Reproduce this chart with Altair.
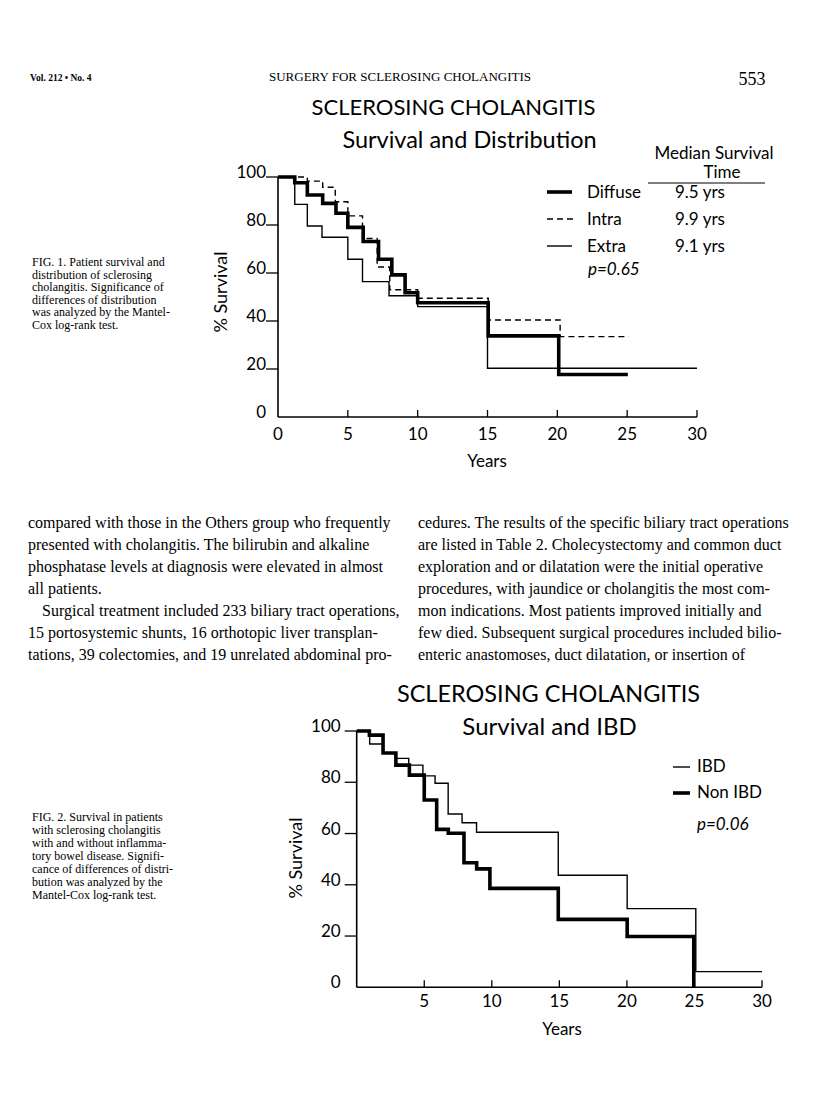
import altair as alt
import pandas as pd

# ---------------- data ----------------
# Fig. 1  (survival and distribution)
diffuse_years = [0, 1.2, 2.1, 3.2, 4.15, 5.0, 6.1, 7.2, 8.15, 9.1, 10.0, 15.05, 20.1, 25.05]
diffuse_surv = [100, 97.6, 92.5, 89.0, 84.9, 79.0, 73.1, 65.7, 59.2, 51.8, 47.6, 33.8, 17.7, 17.7]
intra_years = [0, 2.1, 3.2, 4.1, 5.0, 6.05, 7.1, 8.0, 10.0, 15.05, 20.2, 25.1]
intra_surv = [100, 98.3, 95.7, 89.7, 83.8, 74.4, 62.5, 53.0, 49.5, 40.4, 33.5, 33.5]
extra_years = [0, 1.2, 2.1, 3.15, 5.0, 6.05, 7.95, 10.0, 15.0, 30.0]
extra_surv = [100, 88.6, 79.6, 74.9, 65.7, 56.4, 50.5, 46.0, 20.3, 20.3]

# Fig. 2  (survival and IBD)
ibd_years = [0, 0.96, 1.95, 2.85, 3.85, 4.9, 5.8, 6.77, 7.8, 8.87, 14.92, 20.02, 25.1, 30]
ibd_surv = [100, 94.9, 91.4, 89.3, 86.7, 82.5, 79.6, 67.6, 64.2, 60.5, 43.7, 30.7, 6.1, 6.1]
nonibd_years = [0, 0.94, 1.95, 2.9, 3.9, 5.0, 5.92, 6.78, 7.94, 8.88, 9.86, 14.92, 20.02, 24.95]
nonibd_surv = [100, 98.4, 91.4, 86.7, 82.8, 73.1, 61.6, 60.1, 48.6, 46.2, 38.6, 26.5, 19.8, 0]

fig1_groups = ["Diffuse", "Intra", "Extra"]
fig1_medians = ["9.5  yrs", "9.9  yrs", "9.1  yrs"]
fig2_groups = ["IBD", "Non  IBD"]

fig1_x_ticks = [0, 5, 10, 15, 20, 25, 30]
fig1_y_ticks = [0, 20, 40, 60, 80, 100]
fig2_x_ticks = [5, 10, 15, 20, 25, 30]
fig2_y_ticks = [0, 20, 40, 60, 80, 100]

caption1 = ["FIG. 1. Patient survival and", "distribution of sclerosing",
            "cholangitis. Significance of", "differences of distribution",
            "was analyzed by the Mantel-", "Cox log-rank test."]
caption2 = ["FIG. 2. Survival in patients", "with sclerosing cholangitis",
            "with and without inflamma-", "tory bowel disease. Signifi-",
            "cance of differences of distri-", "bution was analyzed by the",
            "Mantel-Cox log-rank test."]
left_par_a = ["compared with those in the Others group who frequently",
              "presented with cholangitis. The bilirubin and alkaline",
              "phosphatase levels at diagnosis were elevated in almost",
              "all patients."]
left_par_b = ["Surgical treatment included 233 biliary tract operations,"]
left_par_c = ["15 portosystemic shunts, 16 orthotopic liver transplan-",
              "tations, 39 colectomies, and 19 unrelated abdominal pro-"]
right_par = ["cedures. The results of the specific biliary tract operations",
             "are listed in Table 2. Cholecystectomy and common duct",
             "exploration and or dilatation were the initial operative",
             "procedures, with jaundice or cholangitis the most com-",
             "mon indications. Most patients improved initially and",
             "few died. Subsequent surgical procedures included bilio-",
             "enteric anastomoses, duct dilatation, or insertion of"]

SANS = "Lato"
SERIF = "Liberation Serif"
ONE = alt.Data(values=[{}])


def txt(lines, x, y, size, font=SANS, align="left", baseline="middle",
        line_height=None, **kw):
    props = dict(text=lines, font=font, fontSize=size, align=align,
                 baseline=baseline, color="black")
    if line_height is not None:
        props["lineHeight"] = line_height
    props.update(kw)
    return alt.Chart(ONE).mark_text(**props).encode(x=alt.value(x), y=alt.value(y))


def rule(x1, x2, y, width):
    return alt.Chart(ONE).mark_rule(color="black", strokeWidth=width).encode(
        x=alt.value(x1), x2=alt.value(x2), y=alt.value(y))


def km_panel(series, xrange, yrange, xticks, yticks, x_label_dy, y_label_dx, y_tick_len):
    xs = alt.Scale(domain=[0, 30], range=xrange, nice=False, zero=False)
    ys = alt.Scale(domain=[0, 100], range=yrange, nice=False, zero=False)
    layers = []
    for years, surv, width, dash in series:
        df = pd.DataFrame({"year": years, "surv": surv})
        mk = dict(interpolate="step-after", color="black", strokeWidth=width)
        if dash:
            mk["strokeDash"] = dash
        layers.append(alt.Chart(df).mark_line(**mk).encode(
            x=alt.X("year:Q", scale=xs, axis=None),
            y=alt.Y("surv:Q", scale=ys, axis=None)))
    ext = pd.DataFrame({"x0": [0], "x1": [30], "y0": [0], "y1": [100]})
    layers.append(alt.Chart(ext).mark_rule(color="black", strokeWidth=1.6).encode(
        x=alt.X("x0:Q", scale=xs, axis=None), x2="x1:Q",
        y=alt.Y("y0:Q", scale=ys, axis=None)))
    layers.append(alt.Chart(ext).mark_rule(color="black", strokeWidth=1.6).encode(
        x=alt.X("x0:Q", scale=xs, axis=None),
        y=alt.Y("y0:Q", scale=ys, axis=None), y2="y1:Q"))
    xt = pd.DataFrame({"v": [v for v in xticks if v > 0], "z": 0})
    layers.append(alt.Chart(xt).mark_rule(color="black", strokeWidth=1.3, y2Offset=-7).encode(
        x=alt.X("v:Q", scale=xs, axis=None),
        y=alt.Y("z:Q", scale=ys, axis=None), y2="z:Q"))
    yt = pd.DataFrame({"v": [v for v in yticks if v > 0], "z": 0})
    layers.append(alt.Chart(yt).mark_rule(color="black", strokeWidth=1.3, x2Offset=-y_tick_len).encode(
        y=alt.Y("v:Q", scale=ys, axis=None),
        x=alt.X("z:Q", scale=xs, axis=None), x2="z:Q"))
    xl = pd.DataFrame({"v": xticks, "z": 0})
    layers.append(alt.Chart(xl).mark_text(font=SANS, fontSize=17, baseline="middle",
                                          align="center", dy=x_label_dy, color="black").encode(
        x=alt.X("v:Q", scale=xs, axis=None),
        y=alt.Y("z:Q", scale=ys, axis=None), text="v:N"))
    yl = pd.DataFrame({"v": yticks, "z": 0})
    layers.append(alt.Chart(yl).mark_text(font=SANS, fontSize=17, baseline="alphabetic",
                                          align="right", dx=y_label_dx, dy=1, color="black").encode(
        y=alt.Y("v:Q", scale=ys, axis=None),
        x=alt.X("z:Q", scale=xs, axis=None), text="v:N"))
    return alt.layer(*layers)


fig1 = km_panel(
    [(extra_years, extra_surv, 1.4, None),
     (intra_years, intra_surv, 1.4, [6, 4]),
     (diffuse_years, diffuse_surv, 3.6, None)],
    xrange=[270, 689], yrange=[409, 169],
    xticks=fig1_x_ticks, yticks=fig1_y_ticks,
    x_label_dy=18, y_label_dx=-12, y_tick_len=12)

fig2 = km_panel(
    [(ibd_years, ibd_surv, 1.4, None),
     (nonibd_years, nonibd_surv, 3.6, None)],
    xrange=[348.7, 754], yrange=[979.3, 723],
    xticks=fig2_x_ticks, yticks=fig2_y_ticks,
    x_label_dy=15, y_label_dx=-16, y_tick_len=12)

texts = [
    # running head
    txt("Vol. 212 • No. 4", 22, 70, 9.5, font=SERIF, fontWeight="bold"),
    txt("SURGERY FOR SCLEROSING CHOLANGITIS", 392, 69, 13, font=SERIF, align="center"),
    txt("553", 744, 72, 18, font=SERIF, align="center"),
    # figure 1 titles & legend
    txt("SCLEROSING CHOLANGITIS", 445.5, 100, 22, align="center"),
    txt("Survival and Distribution", 461.5, 133, 23.5, align="center"),
    txt("Median Survival", 706, 146, 17, align="center"),
    txt("Time", 714, 165, 17, align="center"),
    rule(640, 757, 175, 1.2),
    rule(539, 564, 184, 3.6),
    alt.Chart(ONE).mark_rule(color="black", strokeWidth=1.4, strokeDash=[6, 4]).encode(
        x=alt.value(539), x2=alt.value(566), y=alt.value(211)),
    rule(539, 564, 238, 1.4),
    txt(fig1_groups, 579, 185, 17, line_height=27),
    txt(fig1_medians, 667, 185, 17, line_height=27),
    txt("p=0.65", 580, 262, 17, fontStyle="italic"),
    txt("% Survival", 214, 284, 18, align="center", angle=270),
    txt("Years", 479, 454, 17, align="center"),
    # captions
    txt(caption1, 24, 254, 12, font=SERIF, line_height=12.5),
    txt(caption2, 24, 809, 12, font=SERIF, line_height=13),
    # body text
    txt(left_par_a, 20, 515, 16, font=SERIF, line_height=22),
    txt(left_par_b, 34, 603, 16, font=SERIF),
    txt(left_par_c, 20, 625, 16, font=SERIF, line_height=22),
    txt(right_par, 410, 515, 16, font=SERIF, line_height=22),
    # figure 2 titles & legend
    txt("SCLEROSING  CHOLANGITIS", 540.5, 687, 23.5, align="center"),
    txt("Survival  and  IBD", 541.5, 720, 24, align="center"),
    rule(665, 682, 759, 1.4),
    rule(665, 682, 785, 3.6),
    txt(fig2_groups, 689, 759, 17, line_height=26),
    txt("p=0.06", 689, 817, 17, fontStyle="italic"),
    txt("% Survival", 289, 850, 18, align="center", angle=270),
    txt("Years", 554, 1022, 17, align="center"),
]

chart = alt.layer(fig1, fig2, *texts).resolve_scale(
    x="independent", y="independent"
).properties(
    width=800, height=1102, padding=0, autosize="none", background="white"
).configure_view(stroke=None)

chart.save("out.html", embed_options={"renderer": "svg", "actions": False})
